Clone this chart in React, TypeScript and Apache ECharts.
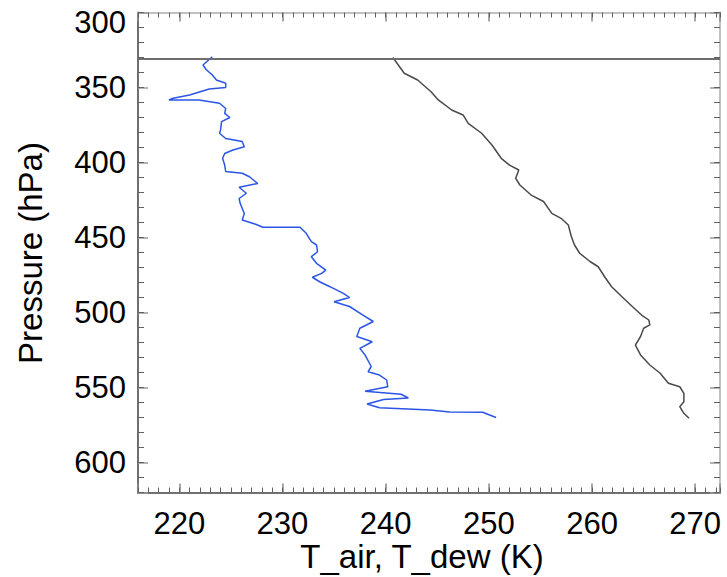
import React, { useEffect, useRef } from "react";
import * as echarts from "echarts";

// T_air profile (K) and pressure (hPa)
const airT = [240.7, 241.8, 243.1, 244.4, 245.1, 246.4, 247.5, 248.0, 249.3, 250.3, 251.2, 252.0, 252.9, 252.6, 253.0, 254.1, 255.3, 256.1, 257.0, 257.7, 258.0, 258.3, 258.8, 259.8, 260.6, 261.3, 261.9, 262.9, 263.9, 264.8, 265.5, 265.6, 265.0, 264.7, 264.2, 264.7, 265.6, 266.6, 267.4, 268.5, 268.9, 268.9, 268.5, 268.9, 269.4];
const airP = [330, 340.5, 345, 352.8, 358.3, 365, 368.3, 373.9, 380.5, 388.3, 397.2, 401.7, 405, 410.5, 415, 421.7, 426, 433.9, 437.2, 441.7, 449.5, 455, 460.5, 466, 469.5, 477, 482.8, 489.5, 496, 501.7, 505, 508.3, 510.5, 516, 521.7, 528.3, 535, 540.5, 547.2, 549.5, 553.9, 559.5, 562.8, 567.2, 570.5];

// T_dew profile (K) and pressure (hPa)
const dewT = [223.2, 222.3, 222.6, 223.2, 223.6, 224.5, 224.5, 222.9, 221.0, 219.4, 219.0, 221.9, 223.9, 224.5, 224.4, 224.9, 224.1, 224.0, 223.9, 224.5, 226.1, 226.3, 225.2, 224.4, 224.2, 224.4, 224.5, 226.1, 226.8, 227.6, 225.8, 226.5, 225.8, 225.9, 226.3, 226.1, 227.4, 228.1, 231.7, 232.3, 232.8, 233.3, 233.4, 232.8, 233.3, 234.2, 233.8, 232.9, 233.6, 234.6, 235.9, 236.5, 235.0, 236.5, 237.8, 238.8, 237.5, 237.2, 238.7, 237.5, 238.0, 238.6, 238.3, 239.4, 240.1, 240.2, 238.0, 241.5, 242.2, 239.8, 238.2, 239.4, 244.3, 246.2, 249.4, 250.7];
const dewP = [329.5, 335, 338, 341.7, 345, 347.2, 350, 351, 355, 357.2, 358.3, 358.3, 360.5, 364, 367.2, 370, 372.8, 378.3, 380.5, 384, 386, 389.5, 391.7, 394, 397.2, 401.7, 406, 407.2, 409.5, 414, 416.5, 420.5, 424, 427.2, 434, 438.3, 441.2, 443.2, 443.2, 447.2, 452.8, 455, 459.5, 462.8, 467.2, 471.7, 473.9, 476.5, 479.5, 482.8, 487.2, 490, 492.8, 496, 501.7, 506, 510.5, 516, 519.5, 523.9, 528.3, 536, 539.5, 541.7, 545, 549.5, 552.5, 554.5, 557, 558, 561, 563.5, 565, 566.3, 566.5, 570];

// reference horizontal line (hPa)
const topLevel = [331];

// tick labels
const xTickLabels = [220, 230, 240, 250, 260, 270];
const yTickLabels = [300, 350, 400, 450, 500, 550, 600];

const X_MIN = 216;
const X_MAX = 272.4;
const Y_MIN = 300;
const Y_MAX = 620;

const FONT = "Liberation Sans";
const DARK = "#707070";
const LIGHT = "#c0c0c0";

function isTick(list: number[], v: number) {
  return list.some((t) => Math.abs(t - v) < 1e-6);
}

function xMajor(position: string, showLabel: boolean, lineColor: string) {
  return {
    type: "value",
    position,
    min: X_MIN,
    max: X_MAX,
    axisLine: { show: true, onZero: false, lineStyle: { color: lineColor, width: 2 } },
    axisTick: { show: true, inside: true, length: 9, lineStyle: { color: "#8a8a8a", width: 1.5 } },
    axisLabel: {
      show: showLabel,
      margin: 15,
      fontSize: 31,
      fontFamily: FONT,
      color: "#000",
      formatter: (v: number) => (isTick(xTickLabels, v) ? String(Math.round(v)) : ""),
    },
    splitLine: { show: false },
    minorTick: { show: false },
  };
}

function xMinor(position: string) {
  return {
    type: "value",
    position,
    min: X_MIN,
    max: X_MAX,
    interval: 1,
    axisLine: { show: false },
    axisTick: { show: true, inside: true, length: 5, lineStyle: { color: "#606060", width: 1 } },
    axisLabel: { show: false },
    splitLine: { show: false },
  };
}

function yMajor(position: string, showLabel: boolean, lineColor: string) {
  return {
    type: "value",
    position,
    inverse: true,
    min: Y_MIN,
    max: Y_MAX,
    interval: 50,
    axisLine: { show: true, onZero: false, lineStyle: { color: lineColor, width: 2 } },
    axisTick: { show: true, inside: true, length: 10, lineStyle: { color: "#9a9a9a", width: 1.5 } },
    axisLabel: {
      show: showLabel,
      margin: 12,
      fontSize: 31,
      fontFamily: FONT,
      color: "#000",
      formatter: (v: number) => {
        if (!isTick(yTickLabels, v)) return "";
        if (Math.abs(v - Y_MIN) < 1e-6) return "{t|" + Math.round(v) + "}";
        return String(Math.round(v));
      },
      rich: {
        t: { padding: [19, 0, 0, 0], fontSize: 31, fontFamily: FONT, color: "#000" },
      },
    },
    splitLine: { show: false },
  };
}

function yMinor(position: string) {
  return {
    type: "value",
    position,
    inverse: true,
    min: Y_MIN,
    max: Y_MAX,
    interval: 10,
    axisLine: { show: false },
    axisTick: { show: true, inside: true, length: 6, lineStyle: { color: "#606060", width: 1 } },
    axisLabel: { show: false },
    splitLine: { show: false },
  };
}

export default function App() {
  const ref = useRef<HTMLDivElement>(null);

  useEffect(() => {
    if (!ref.current) return;
    const chart = echarts.init(ref.current, null, { renderer: "svg" });
    const option = {
      animation: false,
      backgroundColor: "#ffffff",
      grid: {
        left: 138,
        right: 7,
        top: 12.5,
        bottom: 84.5,
        containLabel: false,
        outerBoundsMode: "none",
      },
      xAxis: [
        xMajor("bottom", true, DARK),
        xMinor("bottom"),
        xMajor("top", false, LIGHT),
        xMinor("top"),
      ],
      yAxis: [
        yMajor("left", true, DARK),
        yMinor("left"),
        yMajor("right", false, LIGHT),
        yMinor("right"),
      ],
      graphic: [
        {
          type: "text",
          x: 422,
          y: 556,
          silent: true,
          style: {
            text: "T_air, T_dew (K)",
            fontSize: 33,
            fontFamily: FONT,
            fill: "#000",
            align: "center",
            textAlign: "center",
            verticalAlign: "middle",
            textVerticalAlign: "middle",
          },
        },
        {
          type: "text",
          x: 30,
          y: 253,
          rotation: Math.PI / 2,
          silent: true,
          style: {
            text: "Pressure (hPa)",
            fontSize: 33,
            fontFamily: FONT,
            fill: "#000",
            align: "center",
            textAlign: "center",
            verticalAlign: "middle",
            textVerticalAlign: "middle",
          },
        },
      ],
      series: [
        {
          type: "line",
          name: "T_dew",
          xAxisIndex: 0,
          yAxisIndex: 0,
          data: dewT.map((t, i) => [t, dewP[i]]),
          symbol: "none",
          showSymbol: false,
          lineStyle: { color: "#2b55e6", width: 1.5 },
          z: 3,
        },
        {
          type: "line",
          name: "T_air",
          xAxisIndex: 0,
          yAxisIndex: 0,
          data: airT.map((t, i) => [t, airP[i]]),
          symbol: "none",
          showSymbol: false,
          lineStyle: { color: "#4a4a4a", width: 1.5 },
          z: 3,
          markLine: {
            silent: true,
            symbol: "none",
            label: { show: false },
            lineStyle: { color: "#6e6e6e", width: 2, type: "solid" },
            data: topLevel.map((p) => ({ yAxis: p })),
          },
        },
      ],
    };
    chart.setOption(option as any);
    return () => chart.dispose();
  }, []);

  return (
    <div
      ref={ref}
      style={{ position: "fixed", left: 0, top: 0, width: 727, height: 577, background: "#fff" }}
    />
  );
}
